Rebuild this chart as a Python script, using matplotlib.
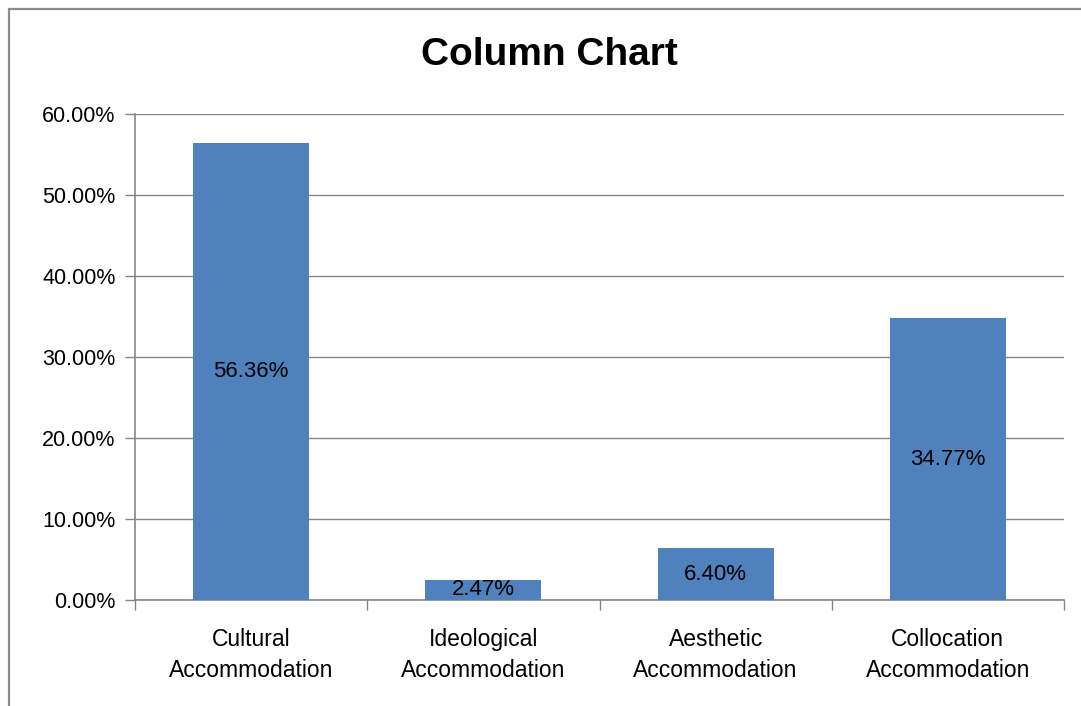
import matplotlib
matplotlib.use("Agg")
import matplotlib.pyplot as plt
import matplotlib.ticker as mticker
from matplotlib.patches import Rectangle

categories = ["Cultural\nAccommodation", "Ideological\nAccommodation",
              "Aesthetic\nAccommodation", "Collocation\nAccommodation"]
values = [56.36, 2.47, 6.40, 34.77]
y_ticks = [0, 10, 20, 30, 40, 50, 60]

BAR = "#4F81BD"
GRID = "#868686"

plt.rcParams["font.family"] = ["Liberation Sans", "DejaVu Sans"]

fig = plt.figure(figsize=(10.81, 7.06), dpi=100)

# chart area border (only top and left visible in the crop)
fig.patches.append(Rectangle((9 / 1081, -0.1), 1.2, 1 - 9 / 706 + 0.1,
                             transform=fig.transFigure, fill=False,
                             edgecolor="#8C8C8C", linewidth=1.6))

ax = fig.add_axes([135 / 1081, 1 - 600 / 706, 929 / 1081, 486 / 706])
x = range(len(categories))
bars = ax.bar(x, values, width=0.5, color=BAR, zorder=3)

ax.set_xlim(-0.5, len(categories) - 0.5)
ax.set_ylim(0, 60)
ax.set_yticks(y_ticks)
ax.yaxis.set_major_formatter(mticker.FuncFormatter(lambda v, _: f"{v:.2f}%"))
ax.grid(axis="y", color=GRID, linewidth=1.0, zorder=0)

ax.set_xticks(x)
ax.set_xticklabels(categories, fontsize=16.5, linespacing=1.45)
ax.set_xticks([i - 0.5 for i in range(len(categories) + 1)], minor=True)
ax.tick_params(axis="x", which="major", length=0, pad=20)
ax.tick_params(axis="x", which="minor", length=7, color=GRID, width=1)
ax.tick_params(axis="y", length=7, color=GRID, width=1, labelsize=15.5, pad=7)

for side in ("top", "right"):
    ax.spines[side].set_visible(False)
ax.spines["left"].set_color(GRID)
ax.spines["bottom"].set_color(GRID)
ax.spines["left"].set_linewidth(1.2)
ax.spines["bottom"].set_linewidth(1.2)

for b, v in zip(bars, values):
    ax.text(b.get_x() + b.get_width() / 2, v / 2, f"{v:.2f}%",
            ha="center", va="center", fontsize=16, color="black", zorder=4)

fig.text(549 / 1081, 1 - 55 / 706, "Column Chart", ha="center", va="center",
         fontsize=28, fontweight="bold")

fig.savefig("out.png", dpi=100)
